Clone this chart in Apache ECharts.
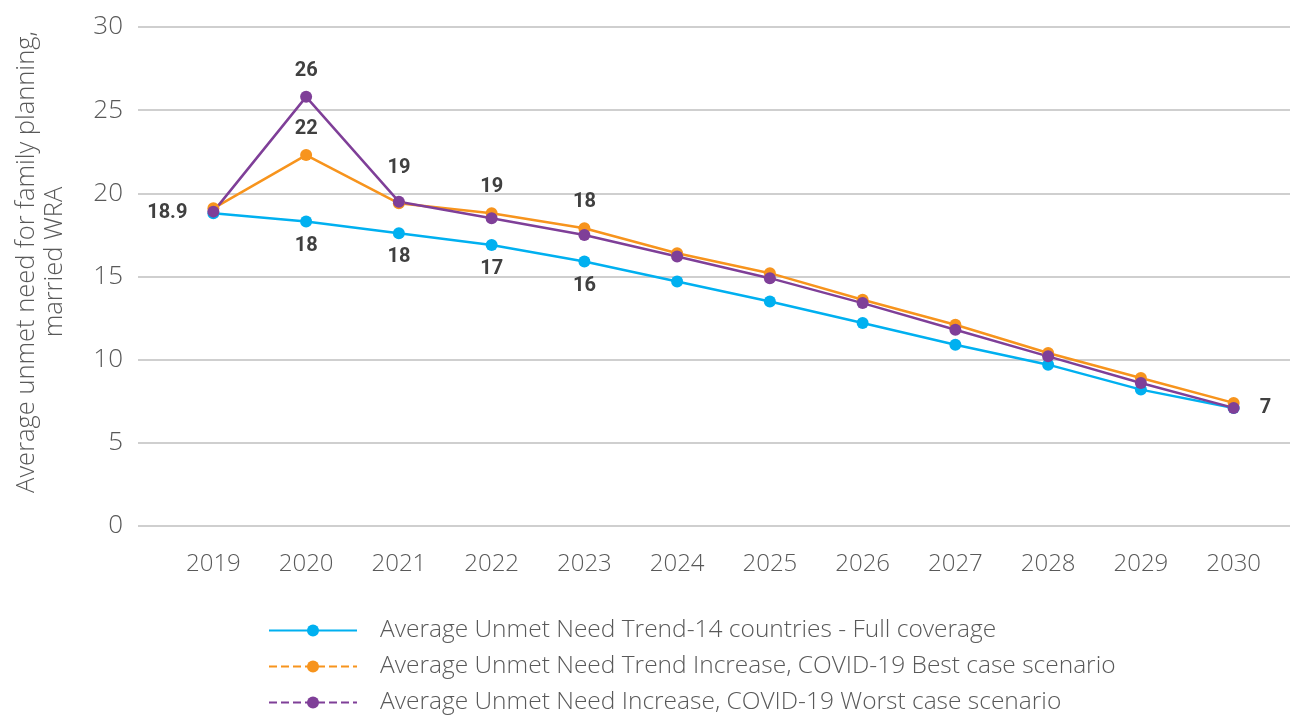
<!DOCTYPE html>
<html>
<head>
<meta charset="utf-8">
<script src="https://cdn.jsdelivr.net/npm/echarts@6/dist/echarts.min.js"></script>
<style>
  html, body { margin: 0; padding: 0; background: #fff; }
  #chart { width: 1290px; height: 716px; }
</style>
</head>
<body>
<div id="chart"></div>
<script>
// 数据
const years = ['2019', '2020', '2021', '2022', '2023', '2024', '2025', '2026', '2027', '2028', '2029', '2030']
const fullCoverage = [18.8, 18.3, 17.6, 16.9, 15.9, 14.7, 13.5, 12.2, 10.9, 9.7, 8.2, 7.1]
const bestCase = [19.1, 22.3, 19.4, 18.8, 17.9, 16.4, 15.2, 13.6, 12.1, 10.4, 8.9, 7.4]
const worstCase = [18.9, 25.8, 19.5, 18.5, 17.5, 16.2, 14.9, 13.4, 11.8, 10.2, 8.6, 7.1]
const fullLabels = ['18.9', '18', '18', '17', '16', '', '', '', '', '', '', '']
const bestLabels = ['', '22', '', '19', '18', '', '', '', '', '', '', '']
const worstLabels = ['', '26', '19', '', '', '', '', '', '', '', '', '7']
const yTitle = 'Average unmet need for family planning,\nmarried WRA'
const names = [
  'Average Unmet Need Trend-14 countries - Full coverage',
  'Average Unmet Need Trend Increase, COVID-19 Best case scenario',
  'Average Unmet Need Increase, COVID-19 Worst case scenario'
]
const colors = ['#00B0F0', '#F7941D', '#7F3F98']

const labelFont = {
  fontFamily: "'Liberation Sans Narrow', Roboto, sans-serif",
  fontWeight: 'bold',
  fontSize: 20,
  color: '#404040'
}
const lightFont = "'Open Sans', sans-serif"

// 把数值和标注文字拼成 data
function buildData(values, labels, defPos, special) {
  return values.map((v, i) => {
    const item = { value: v }
    if (labels[i]) {
      const pos = special[i] || defPos
      item.label = Object.assign({ show: true, formatter: labels[i] }, labelFont, pos)
    }
    return item
  })
}

const myChart = echarts.init(document.querySelector('#chart'))
const option = {
  animation: false,
  color: colors,
  grid: [
    // 背景网格线 + y轴文字
    { left: 138, right: 0, top: 27, bottom: 190 },
    // 数据
    { left: 167, right: 10, top: 27, bottom: 190 }
  ],
  xAxis: [
    { gridIndex: 0, type: 'value', show: false, min: 0, max: 1 },
    {
      gridIndex: 1,
      type: 'category',
      data: years,
      axisLine: { show: false },
      axisTick: { show: false },
      axisLabel: {
        margin: 26,
        fontFamily: lightFont,
        fontWeight: 300,
        fontSize: 24,
        color: '#595959'
      }
    }
  ],
  yAxis: [
    {
      gridIndex: 0,
      type: 'value',
      min: 0,
      max: 30,
      interval: 5,
      axisLine: { show: false },
      axisTick: { show: false },
      axisLabel: {
        margin: 15,
        fontFamily: lightFont,
        fontWeight: 300,
        fontSize: 26,
        color: '#595959'
      },
      splitLine: { lineStyle: { color: '#BFBFBF', width: 1.5 } }
    },
    {
      gridIndex: 1,
      type: 'value',
      min: 0,
      max: 30,
      show: false,
      splitLine: { show: false }
    }
  ],
  // y轴标题
  graphic: [{
    type: 'text',
    x: 41,
    y: 262,
    rotation: Math.PI / 2,
    style: {
      text: yTitle,
      align: 'center',
      verticalAlign: 'middle',
      fontFamily: lightFont,
      fontWeight: 300,
      fontSize: 25.5,
      lineHeight: 28,
      fill: '#595959'
    }
  }],
  legend: {
    orient: 'vertical',
    left: 268,
    top: 618,
    padding: 0,
    itemWidth: 88,
    itemHeight: 15,
    itemGap: 11,
    textStyle: {
      fontFamily: lightFont,
      fontWeight: 300,
      fontSize: 24.5,
      lineHeight: 25,
      color: '#595959',
      padding: [0, 0, 0, 18]
    },
    data: [
      { name: names[0] },
      { name: names[1], lineStyle: { type: 'dashed' } },
      { name: names[2], lineStyle: { type: 'dashed' } }
    ]
  },
  series: [
    {
      name: names[0],
      type: 'line',
      xAxisIndex: 1,
      yAxisIndex: 1,
      symbol: 'circle',
      symbolSize: 12,
      lineStyle: { width: 2.5 },
      data: buildData(fullCoverage, fullLabels, { position: 'bottom', distance: 8 },
        { 0: { position: 'left', distance: 20 } })
    },
    {
      name: names[1],
      type: 'line',
      xAxisIndex: 1,
      yAxisIndex: 1,
      symbol: 'circle',
      symbolSize: 12,
      lineStyle: { width: 2.5 },
      data: buildData(bestCase, bestLabels, { position: 'top', distance: 10 }, {})
    },
    {
      name: names[2],
      type: 'line',
      xAxisIndex: 1,
      yAxisIndex: 1,
      symbol: 'circle',
      symbolSize: 12,
      lineStyle: { width: 2.5 },
      data: buildData(worstCase, worstLabels, { position: 'top', distance: 10 },
        { 2: { position: 'top', distance: 18 }, 11: { position: 'right', distance: 20 } })
    }
  ]
}
myChart.setOption(option)
</script>
</body>
</html>
